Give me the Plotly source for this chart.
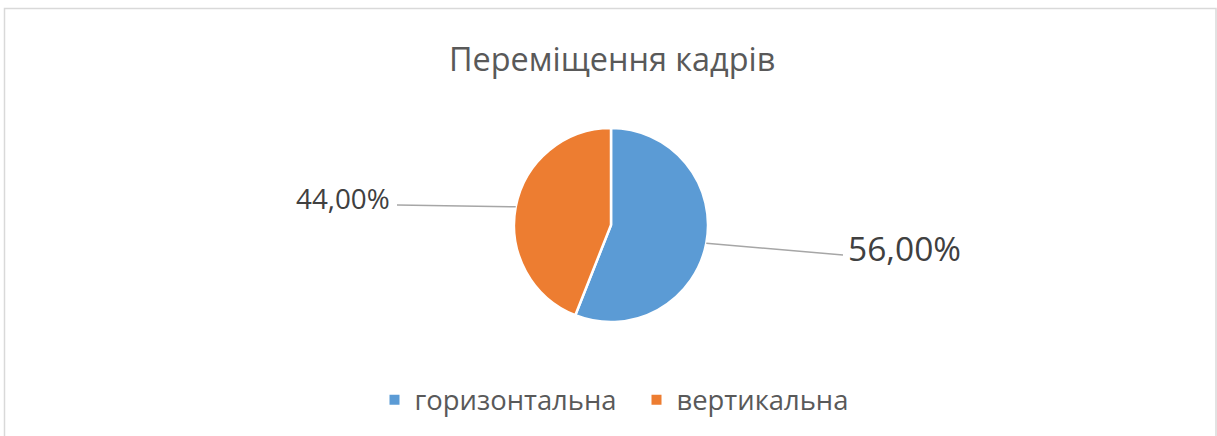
import math
import plotly.graph_objects as go

# Share of staff moves by direction
categories = ["горизонтальна", "вертикальна"]
shares = [56.0, 44.0]
colors = ["#5B9BD5", "#ED7D31"]
title_text = "Переміщення кадрів"

W, H = 1217, 436
cx, cy, r = 611, 225, 97          # pie centre and radius in pixels
font_family = "Open Sans"
text_gray = "#595959"

fig = go.Figure()

fig.add_trace(go.Pie(
    labels=categories,
    values=shares,
    sort=False,
    direction="clockwise",
    rotation=0,
    textinfo="none",
    hoverinfo="label+percent",
    marker=dict(colors=colors, line=dict(color="white", width=2.5)),
    domain=dict(x=[(cx - r) / W, (cx + r) / W], y=[1 - (cy + r) / H, 1 - (cy - r) / H]),
))

# Leader lines from each slice's mid-angle to its label
label_ends = [(843, 255, "left", 33.5), (397, 205, "right", 27.8)]
total = sum(shares)
start = 0.0
shapes = []
annotations = []
for val, (lx, ly, anchor, fsize) in zip(shares, label_ends):
    mid = (start + val / 2) / total * 2 * math.pi
    start += val
    ex = cx + r * math.sin(mid)
    ey = cy - r * math.cos(mid)
    shapes.append(dict(type="line", xref="x", yref="y", x0=ex, y0=ey, x1=lx, y1=ly,
                       line=dict(color="#A6A6A6", width=1.5)))
    annotations.append(dict(
        x=lx + (3 if anchor == "left" else -5), y=ly - 7, xref="x", yref="y",
        text=f"{val:.2f}%".replace(".", ","), showarrow=False,
        xanchor=anchor, yanchor="middle",
        font=dict(family=font_family, size=fsize, color="#404040"),
    ))

# Chart frame
shapes.append(dict(type="rect", xref="x", yref="y", x0=4.5, y0=8.5, x1=1216, y1=445,
                   line=dict(color="#D9D9D9", width=1.5), fillcolor="rgba(0,0,0,0)", layer="below"))

annotations.append(dict(
    x=612, y=58, xref="x", yref="y", text=title_text, showarrow=False,
    xanchor="center", yanchor="middle",
    font=dict(family=font_family, size=32.4, color=text_gray),
))

fig.update_layout(
    width=W, height=H,
    margin=dict(l=0, r=0, t=0, b=0),
    paper_bgcolor="white", plot_bgcolor="white",
    xaxis=dict(range=[0, W], visible=False, fixedrange=True),
    yaxis=dict(range=[H, 0], visible=False, fixedrange=True),
    shapes=shapes,
    annotations=annotations,
    showlegend=True,
    legend=dict(
        orientation="h", x=0.5 + 28 / W, xanchor="center", y=1 - 400 / H, yanchor="middle",
        font=dict(family=font_family, size=27.4, color=text_gray),
        itemsizing="constant", bgcolor="rgba(0,0,0,0)",
        entrywidth=217, entrywidthmode="pixels",
    ),
)

fig.write_html("out.html")
